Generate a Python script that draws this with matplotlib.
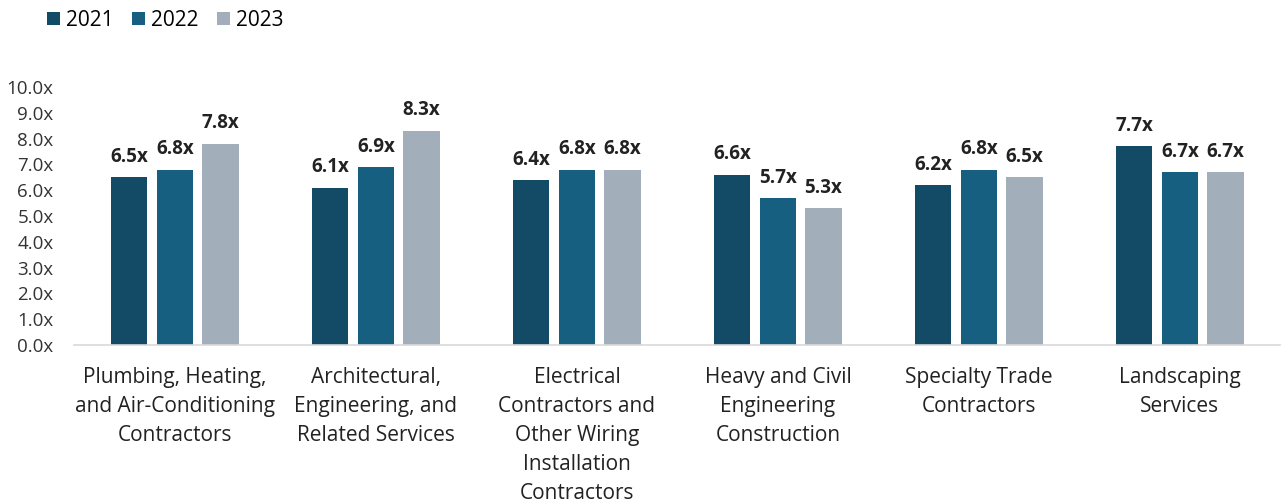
import numpy as np
import matplotlib.pyplot as plt

plt.rcParams['font.family'] = ['Open Sans', 'DejaVu Sans']

categories = ['Plumbing, Heating,\nand Air-Conditioning\nContractors',
              'Architectural,\nEngineering, and\nRelated Services',
              'Electrical\nContractors and\nOther Wiring\nInstallation\nContractors',
              'Heavy and Civil\nEngineering\nConstruction',
              'Specialty Trade\nContractors',
              'Landscaping\nServices']
years = ['2021', '2022', '2023']
v2021 = [6.5, 6.1, 6.4, 6.6, 6.2, 7.7]
v2022 = [6.8, 6.9, 6.8, 5.7, 6.8, 6.7]
v2023 = [7.8, 8.3, 6.8, 5.3, 6.5, 6.7]
colors = ['#134A66', '#165F80', '#A2AFBA']


def main():
    fig = plt.figure(figsize=(12.83, 5.04), dpi=100)
    ax = fig.add_axes([0.058, 0.3155, 0.94, 0.512])

    x = np.arange(len(categories))
    w = 0.18
    step = 0.227
    for i, (vals, yr) in enumerate(zip([v2021, v2022, v2023], years)):
        bars = ax.bar(x + (i - 1) * step, vals, w, color=colors[i], label=yr)
        for b, v in zip(bars, vals):
            ax.text(b.get_x() + b.get_width() / 2, v + 0.4, f'{v:.1f}x',
                    ha='center', va='bottom', fontsize=13.5, fontweight='bold',
                    color='#222222')

    ax.set_xlim(-0.5, 5.5)
    ax.set_ylim(0, 10)
    ax.set_yticks(np.arange(0, 11, 1))
    ax.set_yticklabels([f'{t:.1f}x' for t in range(11)], fontsize=13.5, color='#333333')
    ax.set_xticks(x)
    ax.set_xticklabels(categories, fontsize=15, color='#222222', linespacing=1.5)
    ax.tick_params(axis='both', length=0)
    ax.tick_params(axis='y', pad=15)
    ax.tick_params(axis='x', pad=16)
    for s in ['top', 'right', 'left']:
        ax.spines[s].set_visible(False)
    ax.spines['bottom'].set_color('#D9D9D9')
    ax.spines['bottom'].set_linewidth(1.2)

    fig.legend(loc='center left', bbox_to_anchor=(47 / 1283, 1 - 20 / 504), ncol=3,
               frameon=False, fontsize=15, handlelength=0.6, handleheight=0.6,
               handletextpad=0.3, columnspacing=0.9, borderpad=0, borderaxespad=0)

    fig.savefig('out.png', dpi=100)


if __name__ == '__main__':
    main()
